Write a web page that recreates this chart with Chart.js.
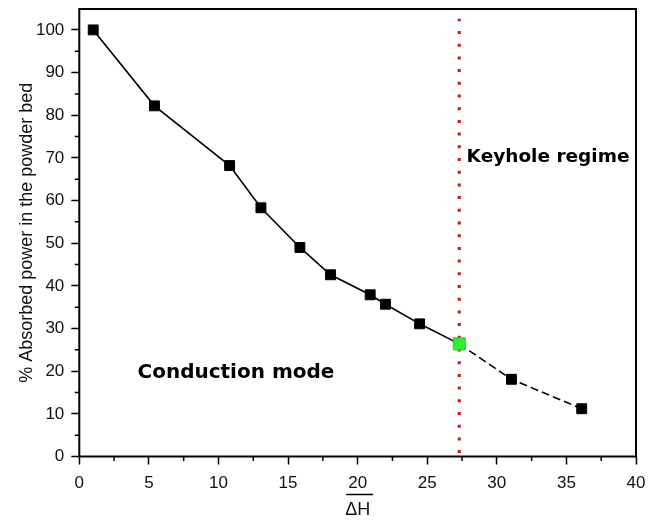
<!DOCTYPE html>
<html>
<head>
<meta charset="utf-8">
<script src="https://cdn.jsdelivr.net/npm/chart.js@4.4.1/dist/chart.umd.min.js"></script>
<style>
  body { margin: 0; background: #fff; }
  #wrap { width: 648px; height: 522px; }
</style>
</head>
<body>
<div id="wrap"><canvas id="myChart" width="648" height="522"></canvas></div>
<script>
// data
const deltaH = [1, 5.4, 10.8, 13.05, 15.85, 18.05, 20.9, 22, 24.45, 27.3, 31.05, 36.1];
const absorbed = [100, 82.2, 68.2, 58.3, 49, 42.6, 37.9, 35.7, 31.1, 26.4, 18.1, 11.2];
const thresholdX = 27.3;              // keyhole threshold (green point / red line)
const thresholdLine = [0.8, 102.6];   // y extent of the red dotted line
const xTicks = [0, 5, 10, 15, 20, 25, 30, 35, 40];
const yTicks = [0, 10, 20, 30, 40, 50, 60, 70, 80, 90, 100];

const points = deltaH.map((x, i) => ({x: x, y: absorbed[i]}));
const isThreshold = (x) => Math.abs(x - thresholdX) < 0.01;

const tickFont = {family: "'Liberation Sans', Arial, sans-serif", size: 17};

// frame + minor ticks + texts
const extras = {
  id: 'extras',
  afterDraw(chart) {
    const {ctx, chartArea: {left, right, top, bottom}} = chart;
    const xs = chart.scales.x, ys = chart.scales.y;
    ctx.save();
    ctx.strokeStyle = '#000';
    ctx.lineWidth = 2;
    ctx.strokeRect(left, top, right - left, bottom - top);

    ctx.lineWidth = 1.5;
    ctx.beginPath();
    for (let i = 0; i < xTicks.length - 1; i++) {
      const px = xs.getPixelForValue((xTicks[i] + xTicks[i + 1]) / 2);
      ctx.moveTo(px, bottom);
      ctx.lineTo(px, bottom + 4.5);
    }
    for (let i = 0; i < yTicks.length - 1; i++) {
      const py = ys.getPixelForValue((yTicks[i] + yTicks[i + 1]) / 2);
      ctx.moveTo(left, py);
      ctx.lineTo(left - 4.5, py);
    }
    ctx.stroke();

    // overline on the x title
    ctx.font = "18px 'Liberation Sans', Arial, sans-serif";
    const w = ctx.measureText('ΔH').width;
    const cx = (left + right) / 2 + 2;
    ctx.beginPath();
    ctx.moveTo(cx - w / 2 - 1, 494.5);
    ctx.lineTo(cx + w / 2 + 1, 494.5);
    ctx.stroke();

    // regime labels
    ctx.fillStyle = '#000';
    ctx.textBaseline = 'middle';
    ctx.textAlign = 'left';
    ctx.font = "bold 18.5px 'DejaVu Sans', Verdana, sans-serif";
    ctx.fillText('Keyhole regime', xs.getPixelForValue(27.83), ys.getPixelForValue(70.2));
    ctx.font = "bold 20px 'DejaVu Sans', Verdana, sans-serif";
    ctx.fillText('Conduction mode', xs.getPixelForValue(4.18), ys.getPixelForValue(19.6));
    ctx.restore();
  }
};

const config = {
  type: 'line',
  data: {
    datasets: [{
      data: points,
      borderColor: '#000',
      borderWidth: 1.6,
      pointStyle: 'rect',
      pointRadius: (c) => isThreshold(c.raw.x) ? 8.5 : 7,
      pointBackgroundColor: (c) => isThreshold(c.raw.x) ? '#2ef02e' : '#000',
      pointBorderColor: (c) => isThreshold(c.raw.x) ? '#24d024' : '#000',
      pointBorderWidth: 1,
      segment: {
        borderDash: (c) => c.p0.parsed.x >= thresholdX - 0.01 ? [8, 4] : undefined
      },
      order: 1
    }, {
      data: thresholdLine.map(y => ({x: thresholdX, y: y})),
      borderColor: '#cc1010',
      borderWidth: 3,
      borderDash: [3, 9.7],
      borderCapStyle: 'butt',
      pointRadius: 0,
      order: 2
    }]
  },
  options: {
    responsive: false,
    animation: false,
    layout: {padding: {top: 9, right: 12, left: 0, bottom: 0}},
    plugins: {
      legend: {display: false},
      tooltip: {enabled: false}
    },
    scales: {
      x: {
        type: 'linear',
        min: 0,
        max: 40,
        afterFit: (s) => { s.height = 65.5; s.paddingLeft = 0; s.paddingRight = 0; },
        afterBuildTicks: (s) => { s.ticks = xTicks.map(v => ({value: v})); },
        border: {display: false},
        grid: {drawOnChartArea: false, tickLength: 8, tickColor: '#000', tickWidth: 1.5},
        ticks: {color: '#111', font: tickFont, padding: 9, maxRotation: 0},
        title: {
          display: true,
          text: 'ΔH',
          color: '#111',
          font: {family: "'Liberation Sans', Arial, sans-serif", size: 18},
          padding: {top: 0, bottom: 1.5}
        }
      },
      y: {
        min: 0,
        max: 104.9,
        afterFit: (s) => { s.width = 79.3; s.paddingTop = 0; s.paddingBottom = 0; },
        afterBuildTicks: (s) => { s.ticks = yTicks.map(v => ({value: v})); },
        border: {display: false},
        grid: {drawOnChartArea: false, tickLength: 8, tickColor: '#000', tickWidth: 1.5},
        ticks: {color: '#111', font: tickFont, padding: 7},
        title: {
          display: true,
          text: '% Absorbed power in the powder bed',
          color: '#111',
          font: {family: "'Liberation Sans', Arial, sans-serif", size: 18},
          padding: {top: 16, bottom: 0}
        }
      }
    }
  },
  plugins: [extras]
};

const myChart = new Chart(document.getElementById('myChart'), config);
</script>
</body>
</html>
